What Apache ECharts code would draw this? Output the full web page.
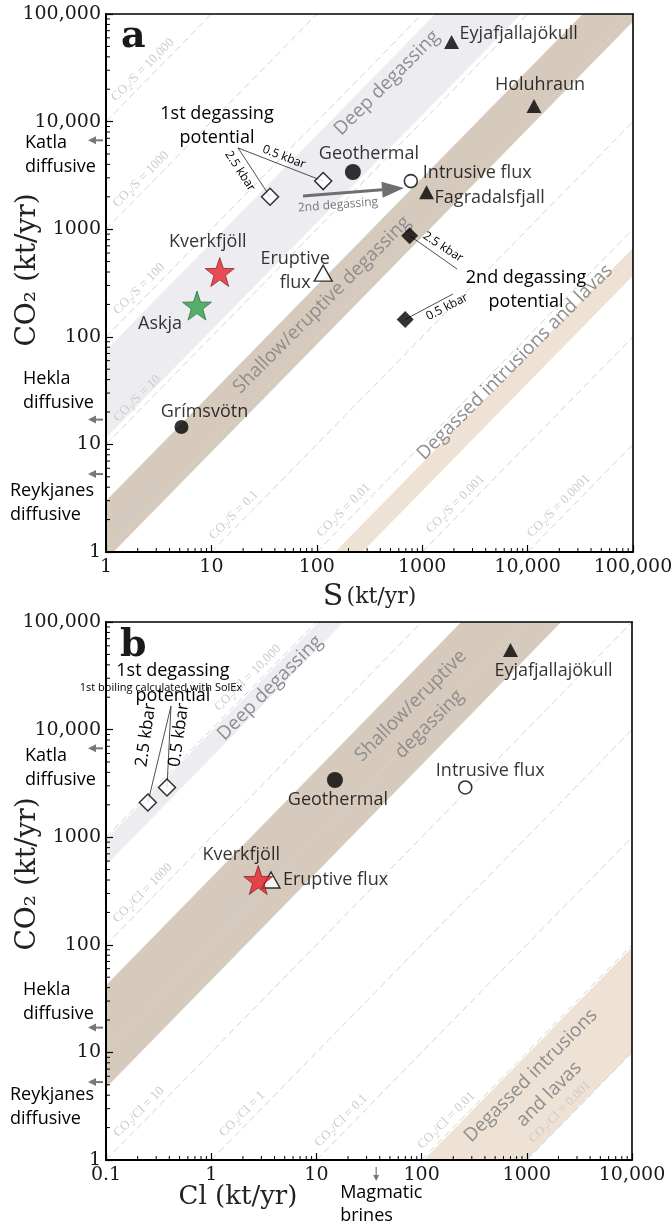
<!DOCTYPE html>
<html>
<head>
<meta charset="utf-8">
<title>CO2 vs S and Cl fluxes</title>
<script src="https://cdn.jsdelivr.net/npm/echarts@6/dist/echarts.min.js"></script>
<style>
html,body{margin:0;padding:0;background:#ffffff;}
#chart{width:671px;height:1228px;}
</style>
</head>
<body>
<div id="chart"></div>
<script>
// ---------------- axis ranges and tick labels ----------------
const aXRange = [1, 100000];
const aYRange = [1, 100000];
const bXRange = [0.1, 10000];
const bYRange = [1, 100000];
const aXTickLabels = ['1', '10', '100', '1000', '10,000', '100,000'];
const bXTickLabels = ['0.1', '1', '10', '100', '1000', '10,000'];
const yTickLabels = ['1', '10', '100', '1000', '10,000', '100,000'];

// ---------------- panel a : CO2 vs S (kt/yr) ----------------
const aEruptionNames = ['Eyjafjallajökull', 'Holuhraun', 'Fagradalsfjall'];
const aEruptionS = [1900, 11500, 1100];
const aEruptionCO2 = [55000, 14000, 2200];
const aFilledCircleNames = ['Geothermal', 'Grímsvötn'];
const aFilledCircleS = [220, 5.2];
const aFilledCircleCO2 = [3400, 14.5];
const aIntrusiveNames = ['Intrusive flux'];
const aIntrusiveS = [780];
const aIntrusiveCO2 = [2800];
const aEruptiveNames = ['Eruptive\nflux'];
const aEruptiveS = [115];
const aEruptiveCO2 = [390];
const aFirstPotentialS = [36, 115];      // 2.5 kbar, 0.5 kbar
const aFirstPotentialCO2 = [2000, 2800];
const aSecondPotentialS = [760, 690];    // 2.5 kbar, 0.5 kbar
const aSecondPotentialCO2 = [870, 145];
const aStarNames = ['Kverkfjöll', 'Askja'];
const aStarS = [12, 7.3];
const aStarCO2 = [400, 195];
const aRatioLines = [10000, 1000, 100, 10, 1, 0.1, 0.01, 0.001, 0.0001];
const aBandNames = ['Deep degassing', 'Shallow/eruptive degassing', 'Degassed intrusions and lavas'];
const aBandLowRatio = [11.5, 0.85, 0.0037];
const aBandHighRatio = [75, 3.0, 0.0067];

// ---------------- panel b : CO2 vs Cl (kt/yr) ----------------
const bEruptionNames = ['Eyjafjallajökull'];
const bEruptionCl = [700];
const bEruptionCO2 = [55000];
const bFilledCircleNames = ['Geothermal'];
const bFilledCircleCl = [15];
const bFilledCircleCO2 = [3400];
const bIntrusiveNames = ['Intrusive flux'];
const bIntrusiveCl = [260];
const bIntrusiveCO2 = [2900];
const bEruptiveNames = ['Eruptive flux'];
const bEruptiveCl = [3.7];
const bEruptiveCO2 = [400];
const bFirstPotentialCl = [0.25, 0.38];   // 2.5 kbar, 0.5 kbar
const bFirstPotentialCO2 = [2100, 2900];
const bStarNames = ['Kverkfjöll'];
const bStarCl = [2.8];
const bStarCO2 = [400];
const bRatioLines = [10000, 1000, 100, 10, 1, 0.1, 0.01, 0.001];
const bBandNames = ['Deep degassing', 'Shallow/eruptive\ndegassing', 'Degassed intrusions\nand lavas'];
const bBandLowRatio = [5500, 47, 0.001];
const bBandHighRatio = [9500, 420, 0.0095];
const magmaticBrinesCl = [37];

// ---------------- diffusive CO2 output (both panels) ----------------
const diffusiveNames = ['Katla', 'Hekla', 'Reykjanes'];
const diffusiveCO2 = [6700, 17, 5.3];

// ================= styles & layout =================
const SANS = '"Open Sans", "Noto Sans", sans-serif';
const SERIF = '"DejaVu Serif", serif';
const RATIO_FONT = '13px "Liberation Serif", serif';
const bandColors = ['#ededf1', '#d6cabd', '#eee2d4'];
const bandTextColor = '#8e8e8e';
const aRatioLabelAt = [2.6, 2.5, 2.4, 2.3, 2.4, 1.9, 2.1, 2.4, 2.3];
const bRatioLabelAt = [26, 2.6, 26, 2.4, 2.3, 2.0, 2.0, 2.4];
const diffusiveLayoutA = [{dx: -81, dy: 15}, {dx: -83, dy: -29}, {dx: -96, dy: 29}];
const diffusiveLayoutB = [{dx: -81, dy: 20}, {dx: -83, dy: -26}, {dx: -96, dy: 25}];

const L = Math.log10;

function clipPoly(poly, f) {
  const out = [];
  for (let i = 0; i < poly.length; i++) {
    const P = poly[i], Q = poly[(i + 1) % poly.length];
    const fp = f(P), fq = f(Q);
    if (fp >= 0) out.push(P);
    if ((fp >= 0) !== (fq >= 0)) {
      const t = fp / (fp - fq);
      out.push([P[0] + t * (Q[0] - P[0]), P[1] + t * (Q[1] - P[1])]);
    }
  }
  return out;
}
// region k1*x <= y <= k2*x clipped to the axis box (computed in log space)
function bandPolygon(k1, k2, xr, yr) {
  const x0 = L(xr[0]), x1 = L(xr[1]), y0 = L(yr[0]), y1 = L(yr[1]);
  const a = L(k1), b = L(k2), lo = x0 - 10, hi = x1 + 10;
  let poly = [[lo, lo + a], [hi, hi + a], [hi, hi + b], [lo, lo + b]];
  poly = clipPoly(poly, p => p[0] - x0);
  poly = clipPoly(poly, p => x1 - p[0]);
  poly = clipPoly(poly, p => p[1] - y0);
  poly = clipPoly(poly, p => y1 - p[1]);
  return poly.map(p => [Math.pow(10, p[0]), Math.pow(10, p[1])]);
}
function ratioSegment(k, xr, yr) {
  const xs = Math.max(xr[0], yr[0] / k), xe = Math.min(xr[1], yr[1] / k);
  return [[xs, k * xs], [xe, k * xe]];
}
function fmtRatio(k) { return k >= 10000 ? k.toLocaleString('en-US') : String(k); }
function minorTickValues(r) {
  const out = [];
  for (let d = r[0]; d < r[1] * 0.999; d *= 10) {
    for (let m = 2; m <= 9; m++) out.push(d * m);
  }
  return out;
}
function txt(text, x, y, o) {
  o = o || {};
  return {
    type: 'text', x: x, y: y, rotation: (o.rot || 0) * Math.PI / 180,
    style: {
      text: text, fill: o.color || '#000',
      font: (o.weight ? o.weight + ' ' : '') + (o.size || 18) + 'px ' + (o.family || SANS),
      align: o.align || 'center', verticalAlign: 'middle',
      textAlign: o.align || 'center', textVerticalAlign: 'middle',
      lineHeight: o.lh || 24
    }
  };
}

// ---------------- series builders ----------------
function bandSeries(gi, low, high, xr, yr) {
  return {
    type: 'custom', xAxisIndex: gi * 2, yAxisIndex: gi * 2, z: 1, silent: true,
    data: low.map((_, i) => [xr[0], yr[0], i]), encode: {x: 0, y: 1},
    renderItem: (params, api) => {
      const i = api.value(2);
      const pts = bandPolygon(low[i], high[i], xr, yr).map(p => api.coord(p));
      return {type: 'polygon', shape: {points: pts}, style: {fill: bandColors[i]}};
    }
  };
}
function ratioSeries(gi, ratios, labelAt, xr, yr, el) {
  return {
    type: 'custom', xAxisIndex: gi * 2, yAxisIndex: gi * 2, z: 2, silent: true,
    data: ratios.map((k, i) => [xr[0], yr[0], i]), encode: {x: 0, y: 1},
    renderItem: (params, api) => {
      const i = api.value(2), k = ratios[i];
      const seg = ratioSegment(k, xr, yr);
      const p0 = api.coord(seg[0]), p1 = api.coord(seg[1]);
      const f = labelAt[i];
      const pa = api.coord([seg[0][0] * f, seg[0][1] * f]);
      return {type: 'group', children: [
        {type: 'line', shape: {x1: p0[0], y1: p0[1], x2: p1[0], y2: p1[1]},
         style: {stroke: '#d4d4d4', lineWidth: 1, lineDash: [7, 4]}},
        {type: 'text', x: pa[0] - 7, y: pa[1] - 7, rotation: Math.PI / 4,
         style: {text: 'CO₂/' + el + ' = ' + fmtRatio(k), fill: '#cacaca', font: RATIO_FONT,
                 align: 'center', verticalAlign: 'middle', textAlign: 'center', textVerticalAlign: 'middle'}}
      ]};
    }
  };
}
function minorTickSeries(gi, xr, yr) {
  const data = minorTickValues(xr).map(v => [v, yr[0], 0])
    .concat(minorTickValues(yr).map(v => [xr[0], v, 1]));
  return {
    type: 'custom', xAxisIndex: gi * 2, yAxisIndex: gi * 2, z: 12, silent: true,
    data: data, encode: {x: 0, y: 1},
    renderItem: (params, api) => {
      const p = api.coord([api.value(0), api.value(1)]);
      const vert = api.value(2) === 0;
      return {type: 'line',
        shape: vert ? {x1: p[0], y1: p[1], x2: p[0], y2: p[1] - 4} : {x1: p[0], y1: p[1], x2: p[0] + 4, y2: p[1]},
        style: {stroke: '#000', lineWidth: 1}};
    }
  };
}
function pointSeries(gi, names, xs, ys, look, layouts) {
  return {
    type: 'scatter', xAxisIndex: gi * 2, yAxisIndex: gi * 2, z: 6, silent: true,
    symbol: look.symbol, symbolSize: look.size, itemStyle: look.style,
    data: xs.map((x, i) => {
      const lay = (layouts && layouts[i]) || {};
      const name = names ? names[i] : '';
      return {
        name: name, value: [x, ys[i]],
        symbolSize: lay.size || look.size,
        itemStyle: lay.style || look.style,
        label: {
          show: !!name, position: 'inside', formatter: name,
          offset: [lay.dx || 0, lay.dy || 0], align: lay.align || 'center', verticalAlign: 'middle',
          color: '#000', fontFamily: SANS, fontSize: 18, lineHeight: 24
        }
      };
    })
  };
}
function diffusiveSeries(gi, xr, yr, layout) {
  return {
    type: 'custom', xAxisIndex: gi * 2, yAxisIndex: gi * 2, z: 6, silent: true, clip: false,
    data: diffusiveCO2.map((v, i) => [xr[0], v, i]), encode: {x: 0, y: 1},
    renderItem: (params, api) => {
      const i = api.value(2);
      const p = api.coord([xr[0], api.value(1)]);
      const lay = layout[i], y = p[1], tip = p[0] - 18;
      return {type: 'group', children: [
        {type: 'line', shape: {x1: p[0] - 3, y1: y, x2: tip + 5, y2: y}, style: {stroke: '#777', lineWidth: 2}},
        {type: 'polygon', shape: {points: [[tip, y], [tip + 8, y - 4], [tip + 8, y + 4]]}, style: {fill: '#777'}},
        txt(diffusiveNames[i] + '\ndiffusive', p[0] + lay.dx, y + lay.dy, {align: 'left'})
      ]};
    }
  };
}
// free annotations placed in data coordinates
function annotationSeries(gi, xr, yr, notes, leaders, arrows) {
  return {
    type: 'custom', xAxisIndex: gi * 2, yAxisIndex: gi * 2, z: 4, silent: true, clip: false,
    data: [[xr[0], yr[0]]], encode: {x: 0, y: 1},
    renderItem: (params, api) => {
      const children = [];
      leaders.forEach(l => {
        const a = api.coord(l.from), b = api.coord(l.to);
        children.push({type: 'line', shape: {x1: a[0], y1: a[1], x2: b[0], y2: b[1]},
          style: {stroke: '#222', lineWidth: 0.8}});
      });
      arrows.forEach(ar => {
        const a = api.coord(ar.from), b = api.coord(ar.to);
        const ang = Math.atan2(b[1] - a[1], b[0] - a[0]);
        const hl = ar.head || 20, hw = ar.headW || 8;
        const bx = b[0] - hl * Math.cos(ang), by = b[1] - hl * Math.sin(ang);
        const nx = -Math.sin(ang), ny = Math.cos(ang);
        children.push({type: 'line', shape: {x1: a[0], y1: a[1], x2: bx, y2: by},
          style: {stroke: ar.color, lineWidth: ar.width}});
        children.push({type: 'polygon', shape: {points: [[b[0], b[1]], [bx + nx * hw, by + ny * hw], [bx - nx * hw, by - ny * hw]]},
          style: {fill: ar.color}});
      });
      notes.forEach(n => {
        const p = api.coord(n.at);
        children.push(txt(n.text, p[0], p[1], n));
      });
      return {type: 'group', children: children};
    }
  };
}
function brinesSeries(gi, xr, yr) {
  return {
    type: 'custom', xAxisIndex: gi * 2, yAxisIndex: gi * 2, z: 6, silent: true, clip: false,
    data: magmaticBrinesCl.map(v => [v, yr[0]]), encode: {x: 0, y: 1},
    renderItem: (params, api) => {
      const p = api.coord([api.value(0), yr[0]]);
      const x = p[0], y0 = p[1] + 7, tip = p[1] + 21;
      return {type: 'group', children: [
        {type: 'line', shape: {x1: x, y1: y0, x2: x, y2: tip - 5}, style: {stroke: '#777', lineWidth: 1.2}},
        {type: 'polygon', shape: {points: [[x, tip], [x - 3, tip - 6], [x + 3, tip - 6]]}, style: {fill: '#777'}},
        txt('Magmatic\nbrines', x - 36, p[1] + 44, {align: 'left', lh: 23})
      ]};
    }
  };
}

// ---------------- axes ----------------
function axisPair(gi, r, isX, labels, name, nameGap, nameStyle) {
  const main = {
    type: 'log', logBase: 10, gridIndex: gi, min: r[0], max: r[1],
    position: isX ? 'bottom' : 'left', z: 10,
    axisLine: {show: true, onZero: false, lineStyle: {color: '#000', width: 2}},
    axisTick: {show: true, inside: true, length: 7, lineStyle: {color: '#000', width: 1.2}},
    axisLabel: {
      formatter: v => labels[Math.round(L(v) - L(r[0]))],
      color: '#1a1a1a', fontFamily: SERIF, fontSize: 19, margin: isX ? 6 : 5
    },
    splitLine: {show: false}, minorTick: {show: false},
    name: name, nameLocation: 'middle', nameGap: nameGap, nameTextStyle: nameStyle,
    nameMoveOverlap: false
  };
  const other = {
    type: 'log', logBase: 10, gridIndex: gi, min: r[0], max: r[1],
    position: isX ? 'top' : 'right', z: 10,
    axisLine: {show: true, onZero: false, lineStyle: {color: '#000', width: 1.6}},
    axisTick: {show: false}, axisLabel: {show: false}, splitLine: {show: false}
  };
  return [main, other];
}

// ---------------- annotations ----------------
const aNotes = [
  {text: '1st degassing\npotential', at: [11.3, 9100], size: 18},
  {text: '0.5 kbar', at: [48.8, 4690], rot: -21, size: 12},
  {text: '2.5 kbar', at: [18.7, 3475], rot: -57, size: 12},
  {text: '2nd degassing', at: [159, 1680], rot: 4.5, size: 12, color: '#777'},
  {text: '2.5 kbar', at: [1575, 683], rot: -33, size: 12},
  {text: '2nd degassing\npotential', at: [9660, 272], size: 18},
  {text: '0.5 kbar', at: [1720, 189], rot: 27, size: 12},
  {text: aBandNames[0], at: [463, 22800], rot: 45, size: 19, color: bandTextColor},
  {text: aBandNames[1], at: [112, 198], rot: 45, size: 19, color: bandTextColor},
  {text: aBandNames[2], at: [7590, 58], rot: 45, size: 19, color: bandTextColor}
];
const aLeaders = [
  {from: [17.9, 5690], to: [aFirstPotentialS[1], aFirstPotentialCO2[1]]},
  {from: [17.9, 5690], to: [aFirstPotentialS[0], aFirstPotentialCO2[0]]},
  {from: [aSecondPotentialS[0], aSecondPotentialCO2[0]], to: [2140, 427]},
  {from: [aSecondPotentialS[1], aSecondPotentialCO2[1]], to: [1960, 250]}
];
const aArrows = [{from: [74, 2035], to: [672, 2415], color: '#6f6f6f', width: 3, head: 22, headW: 8}];

const bNotes = [
  {text: '1st degassing\npotential', at: [0.433, 27100], size: 18, lh: 25},
  {text: '1st boiling calculated with SolEx', at: [0.333, 24400], size: 11},
  {text: '2.5 kbar', at: [0.24, 8910], rot: 82, size: 17},
  {text: '0.5 kbar', at: [0.494, 8910], rot: 82, size: 17},
  {text: bBandNames[0], at: [3.62, 24400], rot: 45, size: 19, color: bandTextColor},
  {text: bBandNames[1], at: [96.7, 13670], rot: 45, size: 19, color: bandTextColor, lh: 26},
  {text: bBandNames[2], at: [1336, 4.98], rot: 45, size: 19, color: bandTextColor, lh: 26}
];
const bLeaders = [
  {from: [0.415, 16560], to: [bFirstPotentialCl[0], bFirstPotentialCO2[0]]},
  {from: [0.415, 16560], to: [bFirstPotentialCl[1], bFirstPotentialCO2[1]]}
];

// ---------------- marker looks ----------------
const STAR = 'path://M0,-10 L2.35,-3.24 L9.51,-3.09 L3.8,1.24 L5.88,8.09 L0,4 L-5.88,8.09 L-3.8,1.24 L-9.51,-3.09 L-2.35,-3.24 Z';
const looks = {
  tri: {symbol: 'triangle', size: [15, 14], style: {color: '#000'}},
  dot: {symbol: 'circle', size: 16, style: {color: '#000'}},
  ring: {symbol: 'circle', size: 13, style: {color: '#fff', borderColor: '#000', borderWidth: 1.6}},
  openTri: {symbol: 'triangle', size: [18, 16], style: {color: '#fff', borderColor: '#000', borderWidth: 1.4}},
  openDiamond: {symbol: 'diamond', size: 17, style: {color: '#fff', borderColor: '#000', borderWidth: 1.5}},
  diamond: {symbol: 'diamond', size: 17, style: {color: '#000'}},
  star: {symbol: STAR, size: 29, style: {color: '#e2232c', borderColor: '#7d1016', borderWidth: 0.8}}
};
const greenStar = {color: '#2f9e48', borderColor: '#1a5a28', borderWidth: 0.8};

const series = [
  // panel a
  bandSeries(0, aBandLowRatio, aBandHighRatio, aXRange, aYRange),
  ratioSeries(0, aRatioLines, aRatioLabelAt, aXRange, aYRange, 'S'),
  minorTickSeries(0, aXRange, aYRange),
  annotationSeries(0, aXRange, aYRange, aNotes, aLeaders, aArrows),
  diffusiveSeries(0, aXRange, aYRange, diffusiveLayoutA),
  pointSeries(0, aEruptionNames, aEruptionS, aEruptionCO2, looks.tri,
    [{dx: 8, dy: -8, align: 'left'}, {dx: 6, dy: -21}, {dx: 8, dy: 6, align: 'left'}]),
  pointSeries(0, aFilledCircleNames, aFilledCircleS, aFilledCircleCO2, looks.dot,
    [{dx: 16, dy: -18}, {dx: 23, dy: -15, size: 14}]),
  pointSeries(0, aIntrusiveNames, aIntrusiveS, aIntrusiveCO2, looks.ring, [{dx: 12, dy: -8, align: 'left'}]),
  pointSeries(0, aEruptiveNames, aEruptiveS, aEruptiveCO2, looks.openTri, [{dx: -28, dy: -2}]),
  pointSeries(0, null, aFirstPotentialS, aFirstPotentialCO2, looks.openDiamond),
  pointSeries(0, null, aSecondPotentialS, aSecondPotentialCO2, looks.diamond),
  pointSeries(0, aStarNames, aStarS, aStarCO2, looks.star,
    [{dx: -12, dy: -30}, {dx: -37, dy: 18, style: greenStar}]),
  // panel b
  bandSeries(1, bBandLowRatio, bBandHighRatio, bXRange, bYRange),
  ratioSeries(1, bRatioLines, bRatioLabelAt, bXRange, bYRange, 'Cl'),
  minorTickSeries(1, bXRange, bYRange),
  annotationSeries(1, bXRange, bYRange, bNotes, bLeaders, []),
  diffusiveSeries(1, bXRange, bYRange, diffusiveLayoutB),
  brinesSeries(1, bXRange, bYRange),
  pointSeries(1, bEruptionNames, bEruptionCl, bEruptionCO2, looks.tri, [{dx: 43, dy: 21}]),
  pointSeries(1, bFilledCircleNames, bFilledCircleCl, bFilledCircleCO2, looks.dot, [{dx: 3, dy: 20}]),
  pointSeries(1, bIntrusiveNames, bIntrusiveCl, bIntrusiveCO2, looks.ring, [{dx: 25, dy: -17}]),
  pointSeries(1, bEruptiveNames, bEruptiveCl, bEruptiveCO2, looks.openTri, [{dx: 12, dy: 0, align: 'left'}]),
  pointSeries(1, null, bFirstPotentialCl, bFirstPotentialCO2, looks.openDiamond),
  pointSeries(1, bStarNames, bStarCl, bStarCO2, looks.star, [{dx: -17, dy: -25}])
];

const yName = {fontFamily: SERIF, fontSize: 28, color: '#222'};
const aX = axisPair(0, aXRange, true, aXTickLabels, '{s|S} {u|(kt/yr)}', 30,
  {rich: {s: {fontFamily: SERIF, fontSize: 30, color: '#222'}, u: {fontFamily: SERIF, fontSize: 22, color: '#222'}}});
const bX = axisPair(1, bXRange, true, bXTickLabels, 'Cl (kt/yr)', 24,
  {fontFamily: SERIF, fontSize: 26, color: '#222', padding: [0, 262, 0, 0]});
const aY = axisPair(0, aYRange, false, yTickLabels, 'CO₂ (kt/yr)', 64, Object.assign({padding: [0, 0, 0, 26]}, yName));
const bY = axisPair(1, bYRange, false, yTickLabels, 'CO₂ (kt/yr)', 64, Object.assign({padding: [0, 0, 0, 34]}, yName));

const option = {
  animation: false,
  backgroundColor: '#ffffff',
  grid: [
    {left: 106, top: 14, width: 527, height: 538, containLabel: false, outerBoundsMode: 'none'},
    {left: 106, top: 622, width: 526, height: 538, containLabel: false, outerBoundsMode: 'none'}
  ],
  xAxis: [aX[0], aX[1], bX[0], bX[1]],
  yAxis: [aY[0], aY[1], bY[0], bY[1]],
  graphic: [
    {type: 'text', x: 121, y: 37, z: 20, style: {text: 'a', font: 'bold 38px "DejaVu Serif", serif', fill: '#1a1a1a', verticalAlign: 'middle', textVerticalAlign: 'middle'}},
    {type: 'text', x: 120, y: 646, z: 20, style: {text: 'b', font: 'bold 38px "DejaVu Serif", serif', fill: '#1a1a1a', verticalAlign: 'middle', textVerticalAlign: 'middle'}}
  ],
  series: series
};

const chart = echarts.init(document.getElementById('chart'), null, {renderer: 'canvas'});
chart.setOption(option);
</script>
</body>
</html>
